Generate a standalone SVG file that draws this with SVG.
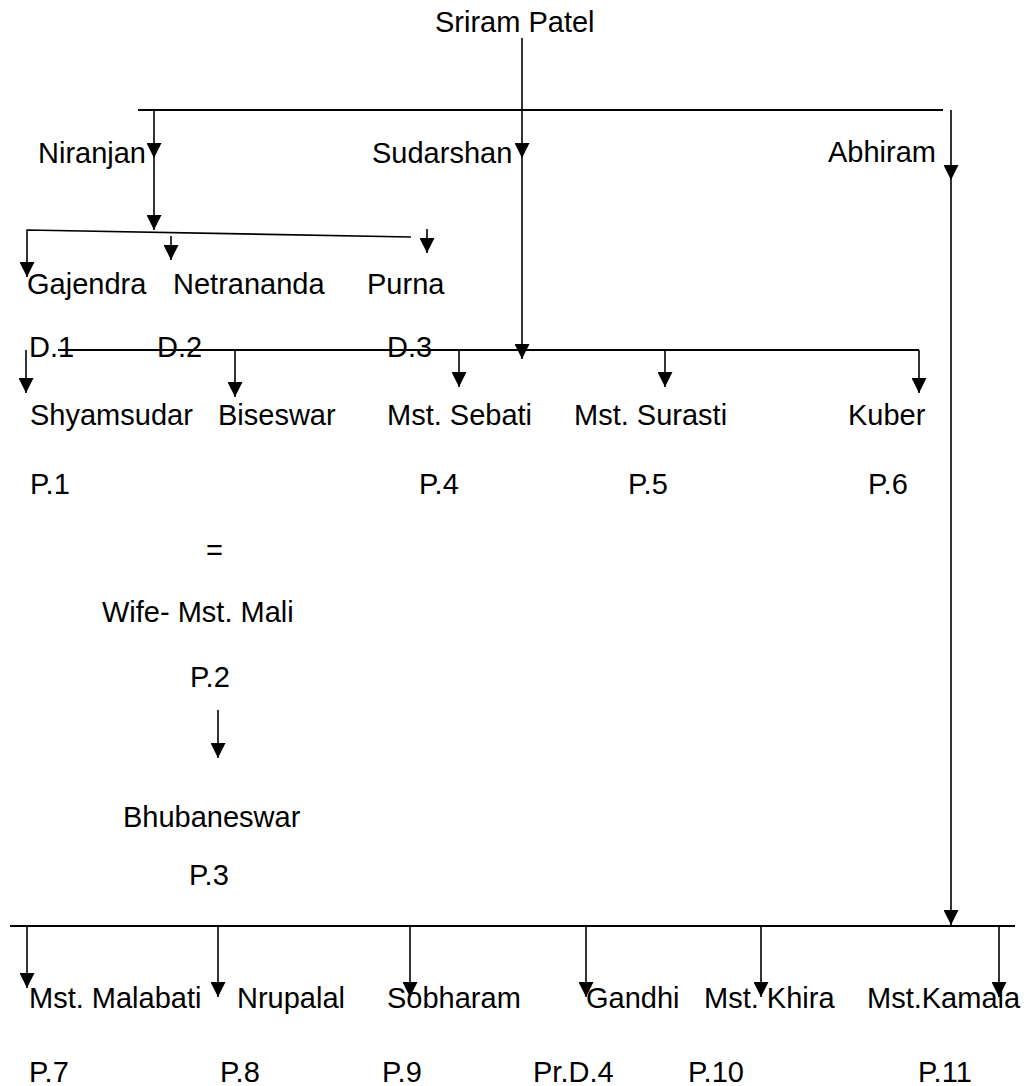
<svg xmlns="http://www.w3.org/2000/svg" width="1027" height="1086" viewBox="0 0 1027 1086">
<style>
text { font-family: "Liberation Sans", Arial, sans-serif; font-size: 29px; fill: #000; }
.h { stroke: #000; stroke-width: 2; fill: none; }
.v { stroke: #000; stroke-width: 1.6; fill: none; }
.a { marker-end: url(#ah); }
</style>
<defs>
<marker id="ah" markerUnits="userSpaceOnUse" markerWidth="15" markerHeight="15" refX="15" refY="7.5" orient="auto">
<path d="M0,0 L15,7.5 L0,15 z" fill="#000"/>
</marker>
</defs>
<rect width="1027" height="1086" fill="#fff"/>
<g id="connectors">
<line class="h" x1="138" y1="110" x2="943" y2="110"/>
<line class="v a" x1="522" y1="38" x2="522" y2="158"/>
<line class="v a" x1="522" y1="158" x2="522" y2="359"/>
<line class="v a" x1="154" y1="110" x2="154" y2="158"/>
<line class="v a" x1="154" y1="158" x2="154" y2="230"/>
<line class="v a" x1="951" y1="110" x2="951" y2="180"/>
<line class="v a" x1="951" y1="180" x2="951" y2="925"/>
<polyline class="v a" points="411,237 27,230 27,277"/>
<line class="v a" x1="171" y1="236" x2="171" y2="260"/>
<line class="v a" x1="427" y1="229" x2="427" y2="253"/>
<line class="h" x1="58" y1="350" x2="919" y2="350"/>
<line class="v a" x1="919" y1="350" x2="919" y2="393"/>
<line class="v a" x1="26" y1="350" x2="26" y2="393"/>
<line class="v a" x1="235" y1="350" x2="235" y2="397"/>
<line class="v a" x1="459" y1="350" x2="459" y2="387"/>
<line class="v a" x1="665" y1="350" x2="665" y2="387"/>
<line class="v a" x1="218" y1="710" x2="218" y2="758"/>
<line class="h" x1="10" y1="926" x2="1015" y2="926"/>
<line class="v a" x1="27" y1="926" x2="27" y2="988"/>
<line class="v a" x1="218" y1="926" x2="218" y2="997"/>
<line class="v a" x1="410" y1="926" x2="410" y2="997"/>
<line class="v a" x1="586" y1="926" x2="586" y2="997"/>
<line class="v a" x1="761" y1="926" x2="761" y2="997"/>
<line class="v a" x1="999" y1="926" x2="999" y2="997"/>
</g>
<g id="sriram"><text x="435" y="32">Sriram Patel</text></g>
<g id="niranjan"><text x="38" y="163">Niranjan</text></g>
<g id="sudarshan"><text x="372" y="163">Sudarshan</text></g>
<g id="abhiram"><text x="828" y="162">Abhiram</text></g>
<g id="gajendra"><text x="27" y="294">Gajendra</text><text x="29" y="357">D.1</text></g>
<g id="netrananda"><text x="173" y="294">Netrananda</text><text x="157" y="357">D.2</text></g>
<g id="purna"><text x="367" y="294">Purna</text><text x="387" y="357">D.3</text></g>
<g id="shyamsudar"><text x="30" y="425">Shyamsudar</text><text x="30" y="494">P.1</text></g>
<g id="biseswar"><text x="218" y="425">Biseswar</text></g>
<g id="sebati"><text x="387" y="425">Mst. Sebati</text><text x="419" y="494">P.4</text></g>
<g id="surasti"><text x="574" y="425">Mst. Surasti</text><text x="628" y="494">P.5</text></g>
<g id="kuber"><text x="848" y="425">Kuber</text><text x="868" y="494">P.6</text></g>
<g id="mali"><text x="206" y="560">=</text><text x="102" y="622">Wife- Mst. Mali</text><text x="190" y="687">P.2</text></g>
<g id="bhubaneswar"><text x="123" y="827">Bhubaneswar</text><text x="189" y="885">P.3</text></g>
<g id="malabati"><text x="29" y="1008">Mst. Malabati</text><text x="29" y="1082">P.7</text></g>
<g id="nrupalal"><text x="237" y="1008">Nrupalal</text><text x="220" y="1082">P.8</text></g>
<g id="sobharam"><text x="387" y="1008">Sobharam</text><text x="382" y="1082">P.9</text></g>
<g id="gandhi"><text x="586" y="1008">Gandhi</text><text x="533" y="1082">Pr.D.4</text></g>
<g id="khira"><text x="704" y="1008">Mst. Khira</text><text x="688" y="1082">P.10</text></g>
<g id="kamala"><text x="867" y="1008">Mst.Kamala</text><text x="918" y="1082">P.11</text></g>
</svg>
